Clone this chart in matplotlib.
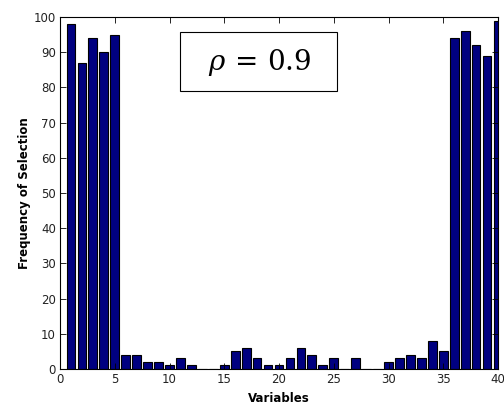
import matplotlib
matplotlib.use("Agg")
import matplotlib.pyplot as plt
from matplotlib.patches import Rectangle

plt.rcParams["mathtext.fontset"] = "dejavuserif"

variables = list(range(1, 41))
frequency = [98, 87, 94, 90, 95, 4, 4, 2, 2, 1,
             3, 1, 0, 0, 1, 5, 6, 3, 1, 1,
             3, 6, 4, 1, 3, 0, 3, 0, 0, 2,
             3, 4, 3, 8, 5, 94, 96, 92, 89, 99]
x_ticks = [0, 5, 10, 15, 20, 25, 30, 35, 40]
y_ticks = [0, 10, 20, 30, 40, 50, 60, 70, 80, 90, 100]

fig = plt.figure(figsize=(5.04, 4.08), dpi=100)
ax = fig.add_axes([60 / 504, 39 / 408, 438 / 504, 352 / 408])

ax.bar(variables, frequency, width=0.8, color="#000080",
       edgecolor="black", linewidth=0.8)

ax.set_xlim(0, 40)
ax.set_ylim(0, 100)
ax.set_xticks(x_ticks)
ax.set_yticks(y_ticks)
ax.tick_params(direction="in", length=4, width=0.6, labelsize=8.5,
               labelcolor="#222222", top=True, right=True, pad=3)
for s in ax.spines.values():
    s.set_linewidth(0.8)

ax.set_xlabel("Variables", fontsize=8.5, fontweight="bold", labelpad=4)
ax.set_ylabel("Frequency of Selection", fontsize=8.5, fontweight="bold",
              labelpad=2)

# annotation box with the correlation value
ax.add_patch(Rectangle((0.274, 0.789), 0.358, 0.168, transform=ax.transAxes,
                       facecolor="white", edgecolor="black", linewidth=0.8,
                       zorder=3))
ax.text(0.455, 0.870, r"$\rho\, =\, 0.9$", transform=ax.transAxes,
        fontsize=20, ha="center", va="center", zorder=4)

fig.savefig("out.png", dpi=100)
